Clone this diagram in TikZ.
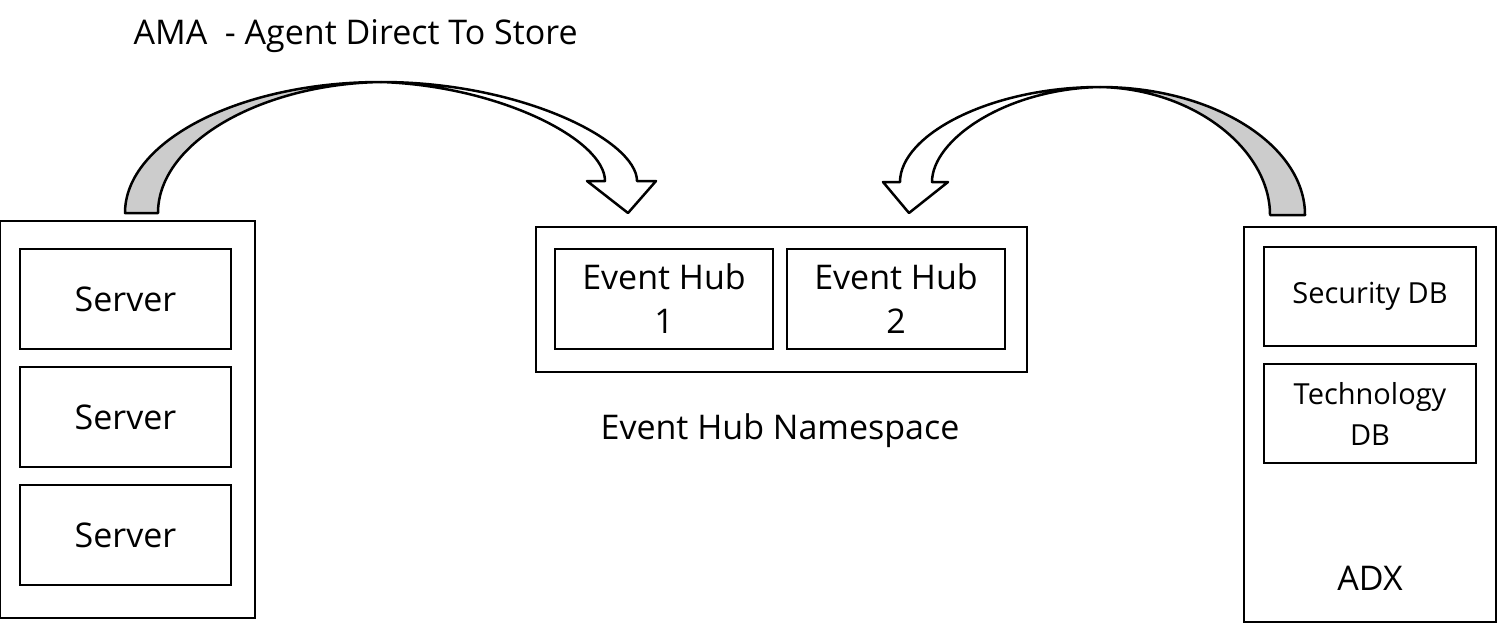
\documentclass[tikz,border=0pt]{standalone}
\usepackage{fontspec}
\setmainfont{Open Sans}
\usetikzlibrary{positioning}
\tikzset{
	box/.style={draw,line width=2pt,inner sep=0pt},
	lbl/.style={font=\fontsize{34}{44}\selectfont,align=center},
	slbl/.style={font=\fontsize{29}{41}\selectfont,align=center},
	band/.style={draw,line width=2.5pt,line join=round,fill=white},
	back/.style={draw,line width=2.5pt,line join=round,fill=black!20}
}
\begin{document}
\begin{tikzpicture}[x=1pt,y=-1pt]
  \useasboundingbox (0,0) rectangle (1498,626);
  % servers
  \node[box,minimum width=255,minimum height=397] (S) at (127.5,419.5) {};
  \foreach \i/\y in {1/299,2/417,3/535}
    \node[box,lbl,minimum width=211,minimum height=100] (S\i) at (125.5,\y) {Server};
  % event hubs
  \node[box,minimum width=491,minimum height=145] (E) at (781.5,299.5) {};
  \node[box,lbl,minimum width=218,minimum height=100] (E1) at (664,299) {Event Hub\\1};
  \node[box,lbl,minimum width=218,minimum height=100] (E2) at (896,299) {Event Hub\\2};
  \node[lbl] (En) at (780,431) {Event Hub Namespace};
  % adx
  \node[box,minimum width=252,minimum height=395] (A) at (1370,424.5) {};
  \node[box,slbl,minimum width=212,minimum height=99] (A1) at (1370,296.5) {Security DB};
  \node[box,slbl,minimum width=212,minimum height=99] (A2) at (1370,413.5) {Technology\\DB};
  \node[lbl] (Ax) at (1370,578) {ADX};
  \node[lbl,anchor=west] (T) at (130,36) {AMA\ \ - Agent Direct To Store};
  % curved arrows
  \draw[back] (125,213) .. controls (125,141) and (240,82) .. (381,82)
        .. controls (262,84) and (158,142) .. (158,213) -- cycle;
  \draw[band] (381,82) .. controls (522,82) and (637,141) .. (637,181)
        -- (656,181) -- (628,213) -- (587,181) -- (605,181)
        .. controls (605,140) and (500,86) .. (381,82) -- cycle;
  \draw[back] (1305,215) .. controls (1305,145) and (1213,87) .. (1100,87)
        .. controls (1195,89) and (1270,150) .. (1270,215) -- cycle;
  \draw[band] (1100,87) .. controls (990,87) and (900,135) .. (900,182)
        -- (883,182) -- (909,213) -- (948,182) -- (932,182)
        .. controls (932,140) and (1005,89) .. (1100,87) -- cycle;
\end{tikzpicture}
\end{document}
